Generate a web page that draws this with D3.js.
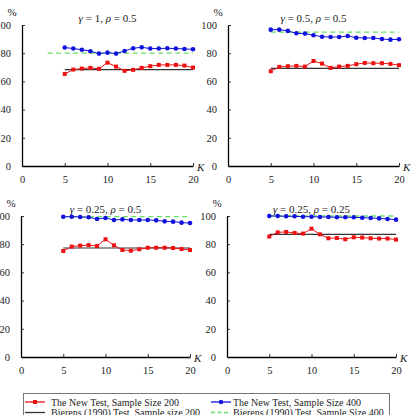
<!DOCTYPE html>
<html><head><meta charset="utf-8">
<script src="https://cdn.jsdelivr.net/npm/d3@7"></script>
<style>body{margin:0;background:#fff}svg{display:block}svg text{font-family:"Liberation Serif","DejaVu Serif",serif !important;}</style>
</head><body><svg id="c" width="413" height="415"></svg>
<script>
const K = [5,6,7,8,9,10,11,12,13,14,15,16,17,18,19,20];
const xTicks = [0,5,10,15,20];
const yTicks = [0,20,40,60,80,100];
const titleParts = [["γ"," = 1, ","ρ"," = 0.5"],["γ"," = 0.5, ","ρ"," = 0.5"],["γ"," = 0.25, ","ρ"," = 0.5"],["γ"," = 0.25, ","ρ"," = 0.25"]];
// New test, sample size 200
const new200 = [
 [65.3,68.4,69.1,69.6,68.9,73.3,70.5,67.5,68.2,69.6,70.8,71.7,71.7,71.7,71.2,69.8],
 [67.2,70.3,70.8,71.0,70.5,74.5,72.6,69.6,70.5,71.0,72.2,73.1,72.9,72.9,72.4,71.5],
 [75.2,78.3,79.0,79.4,78.7,83.5,79.2,75.9,75.4,76.4,77.5,77.5,77.5,77.3,76.6,75.9],
 [85.4,88.4,88.7,88.0,87.5,91.0,87.0,84.2,84.4,83.5,84.9,84.7,84.2,84.0,84.0,83.3]
];
// New test, sample size 400
const new400 = [
 [84.0,83.3,82.5,81.4,79.7,80.4,79.7,81.6,83.5,84.2,83.3,83.3,83.5,83.3,83.0,82.8],
 [96.7,96.7,95.8,94.1,93.9,92.7,91.7,91.5,91.5,92.2,91.0,90.8,90.8,90.1,89.6,89.9],
 [99.5,99.5,99.3,99.1,97.9,98.6,97.2,97.6,97.2,97.2,97.2,96.9,96.2,96.0,95.3,95.0],
 [100,100,99.8,99.8,99.5,99.5,99.3,99.3,99.1,99.1,99.1,98.8,98.6,98.3,97.9,97.4]
];
// Bierens (1990) test levels
const bierens200 = [68.4,69.3,77.3,87.0];
const bierens400 = [80.0,95.0,99.5,100];
const bierens400Start = [3,5,5,5];
const legendLabels = ["The New Test, Sample Size 200","The New Test, Sample Size 400","Bierens (1990) Test, Sample size 200","Bierens (1990) Test, Sample Size 400"];

const svg = d3.select("#c");
const panels = [
 {x0:22,x1:193,yt:25,yb:166},
 {x0:228,x1:399,yt:25,yb:166},
 {x0:21,x1:190,yt:216,yb:357},
 {x0:227,x1:396,yt:216,yb:357}
];
const RED="#ee1111", BLUE="#1111dd", GREEN="#66e066", BLACK="#333";
panels.forEach((p,i)=>{
  const x = d3.scaleLinear().domain([0,20]).range([p.x0,p.x1]);
  const y = d3.scaleLinear().domain([0,100]).range([p.yb,p.yt]);
  const g = svg.append("g");
  const xa = g.append("g").attr("transform",`translate(0,${p.yb})`)
    .call(d3.axisBottom(x).tickValues(xTicks).tickSizeInner(-3).tickSizeOuter(0).tickPadding(10));
  const ya = g.append("g").attr("transform",`translate(${p.x0},0)`)
    .call(d3.axisLeft(y).tickValues(yTicks).tickSizeInner(-3).tickSizeOuter(0).tickPadding(11));
  [xa,ya].forEach(a=>{
    a.attr("font-family",null);
    a.select(".domain").attr("stroke","#000").attr("stroke-width",1.3);
    a.selectAll(".tick line").attr("stroke","#000").attr("stroke-width",0.8);
    a.selectAll(".tick text").attr("font-size",10.5).attr("fill","#222");
  });
  xa.selectAll(".tick line").filter(d=>d===0).remove();
  ya.selectAll(".tick line").filter(d=>d===0).remove();
  const t = g.append("text").attr("x",(p.x0+p.x1)/2).attr("y",p.yt-3).attr("text-anchor","middle").attr("font-size",11).attr("fill","#222");
  titleParts[i].forEach((s,j)=>t.append("tspan").text(s).attr("font-style", j%2===0?"italic":"normal"));
  g.append("text").attr("x",p.x0-10).attr("y",p.yt-9).attr("text-anchor","middle").attr("font-size",11).attr("fill","#222").text("%");
  g.append("text").attr("x",p.x1+4).attr("y",p.yb+5).attr("font-size",11).attr("font-style","italic").attr("fill","#222").text("K");
  const line = d3.line().x(d=>x(d[0])).y(d=>y(d[1]));
  g.append("path").attr("d",line([[bierens400Start[i],bierens400[i]],[20,bierens400[i]]])).attr("stroke",GREEN).attr("stroke-width",1.3).attr("stroke-dasharray","5,3.5").attr("fill","none");
  g.append("path").attr("d",line([[5,bierens200[i]],[20,bierens200[i]]])).attr("stroke",BLACK).attr("stroke-width",1.2).attr("fill","none");
  const d400 = K.map((k,j)=>[k,new400[i][j]]);
  const d200 = K.map((k,j)=>[k,new200[i][j]]);
  g.append("path").attr("d",line(d400)).attr("stroke",BLUE).attr("stroke-width",1).attr("fill","none");
  g.selectAll(".b").data(d400).enter().append("circle").attr("cx",d=>x(d[0])).attr("cy",d=>y(d[1])).attr("r",2.3).attr("fill",BLUE);
  g.append("path").attr("d",line(d200)).attr("stroke",RED).attr("stroke-width",1).attr("fill","none");
  g.selectAll(".r").data(d200).enter().append("rect").attr("x",d=>x(d[0])-2).attr("y",d=>y(d[1])-2).attr("width",4).attr("height",4).attr("fill",RED);
});
const lg = svg.append("g");
lg.append("rect").attr("x",23.5).attr("y",393.5).attr("width",366).attr("height",40).attr("fill","#fff").attr("stroke","#777").attr("stroke-width",1);
const items = [
 {x:25,y:402,c:RED,m:"sq",dash:null},
 {x:211,y:402,c:BLUE,m:"ci",dash:null},
 {x:25,y:412.5,c:BLACK,m:null,dash:null},
 {x:211,y:412.5,c:GREEN,m:null,dash:"4,2.5"}
];
items.forEach((it,i)=>{
  lg.append("line").attr("x1",it.x).attr("x2",it.x+20).attr("y1",it.y).attr("y2",it.y).attr("stroke",it.c).attr("stroke-width",1.3).attr("stroke-dasharray",it.dash);
  if(it.m==="sq") lg.append("rect").attr("x",it.x+8).attr("y",it.y-2).attr("width",4).attr("height",4).attr("fill",it.c);
  if(it.m==="ci") lg.append("circle").attr("cx",it.x+10).attr("cy",it.y).attr("r",2.2).attr("fill",it.c);
  lg.append("text").attr("x",it.x+(i%2===0?26:22)).attr("y",it.y+3.5).attr("font-size",10).attr("fill","#222").text(legendLabels[i]);
});
</script></body></html>
